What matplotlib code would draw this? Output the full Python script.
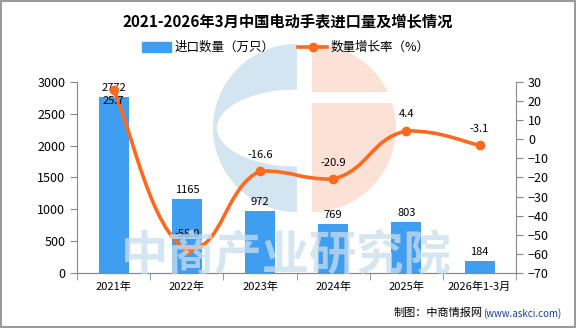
import numpy as np
import matplotlib.pyplot as plt
from matplotlib.path import Path
from matplotlib.patches import PathPatch, Wedge, Ellipse, Rectangle

plt.rcParams['font.family'] = ['Noto Sans CJK SC', 'DejaVu Sans']

years = ['2021年', '2022年', '2023年', '2024年', '2025年', '2026年1-3月']
volume = [2772, 1165, 972, 769, 803, 184]        # 进口数量（万只）
growth = [25.7, -58.0, -16.6, -20.9, 4.4, -3.1]  # 数量增长率（%）

bar_c = '#409EF0'
line_c = '#FF6A1F'
axis_c = '#888888'

fig = plt.figure(figsize=(5.76, 3.28), dpi=100)
fig.patch.set_edgecolor('#999999')
fig.patch.set_linewidth(1.5)

# background logo, in pixel coords
bg = fig.add_axes([0, 0, 1, 1], zorder=-5)
bg.set_xlim(0, 576)
bg.set_ylim(328, 0)
bg.axis('off')
bg.add_patch(Wedge((297, 128), 84, 90, 270, color='#d3e5f0', lw=0))
bg.add_patch(Ellipse((297, 128), 160, 77, color='white', lw=0))
bg.add_patch(Wedge((312, 128), 84, -90, 90, color='#fbe1d6', lw=0))
bg.add_patch(Rectangle((300, 92), 100, 11, color='white', lw=0))

ax = fig.add_axes([0.134, 0.168, 0.762, 0.582])
ax2 = ax.twinx()
ax.patch.set_visible(False)
ax2.patch.set_visible(False)

x = np.arange(len(years))

ax.bar(x, volume, width=0.41, color=bar_c, zorder=2)
for xi, v in zip(x, volume):
    ax.text(xi, v + 60, str(v), ha='center', va='bottom', fontsize=8, zorder=5)

# smooth line via cubic bezier segments (control points clamped per segment)
pts = np.column_stack([x, growth]).astype(float)
k = 0.25
verts = [tuple(pts[0])]
codes = [Path.MOVETO]
for i in range(len(pts) - 1):
    p0 = pts[i - 1] if i > 0 else pts[i]
    p1 = pts[i]
    p2 = pts[i + 1]
    p3 = pts[i + 2] if i + 2 < len(pts) else pts[i + 1]
    c1 = p1 + (p2 - p0) * k
    c2 = p2 - (p3 - p1) * k
    lo, hi = min(p1[1], p2[1]), max(p1[1], p2[1])
    c1[1] = np.clip(c1[1], lo, hi)
    c2[1] = np.clip(c2[1], lo, hi)
    verts += [tuple(c1), tuple(c2), tuple(p2)]
    codes += [Path.CURVE4] * 3
ax2.add_patch(PathPatch(Path(verts, codes), facecolor='none', edgecolor=line_c,
                        lw=2.6, zorder=3))
ax2.plot(x, growth, 'o', color=line_c, ms=6, zorder=4)
for xi, g in zip(x, growth):
    if g > 20:
        ax2.text(xi, g - 3, f'{g:.1f}', ha='center', va='top', fontsize=8, zorder=5)
    else:
        ax2.text(xi, g + 6, f'{g:.1f}', ha='center', va='bottom', fontsize=8, zorder=5)

ax.set_xlim(-0.5, len(years) - 0.5)
ax.set_ylim(0, 3000)
ax.set_yticks(range(0, 3001, 500))
ax2.set_ylim(-70, 30)
ax2.set_yticks(range(-70, 31, 10))
ax.set_xticks(x)
ax.set_xticklabels(years, fontsize=8)
ax.set_xticks(np.arange(-0.5, len(years), 1), minor=True)
ax.tick_params(axis='x', which='major', length=0, pad=6)
ax.tick_params(axis='x', which='minor', length=5, color=axis_c)
ax.tick_params(axis='y', labelsize=9, color=axis_c, length=5)
ax2.tick_params(axis='y', labelsize=9, color=axis_c, length=5)

for a in (ax, ax2):
    a.spines['top'].set_visible(False)
    for s in ['left', 'right', 'bottom']:
        a.spines[s].set_color(axis_c)
ax.spines['right'].set_visible(False)
ax2.spines['left'].set_visible(False)

# watermark text over the plot
fig.text(0.497, 0.222, '中商产业研究院', fontsize=34, color='#c9deed', alpha=0.75,
         ha='center', va='center', fontweight='bold', zorder=10)

fig.text(0.5, 0.935, '2021-2026年3月中国电动手表进口量及增长情况', ha='center',
         va='center', fontsize=11, fontweight='bold')
# legend
fig.patches.append(Rectangle((0.247, 0.84), 0.05, 0.032, color=bar_c,
                             transform=fig.transFigure))
fig.text(0.303, 0.855, '进口数量（万只）', fontsize=9, va='center')
fig.lines.append(plt.Line2D([0.518, 0.568], [0.856, 0.856], color=line_c, lw=2.6,
                            transform=fig.transFigure))
fig.lines.append(plt.Line2D([0.543], [0.856], color=line_c, marker='o', ms=6,
                            transform=fig.transFigure))
fig.text(0.574, 0.855, '数量增长率（%）', fontsize=9, va='center')

fig.text(0.838, 0.045, '制图：中商情报网', fontsize=8, va='center', ha='right')
fig.text(0.839, 0.045, '(www.askci.com)', fontsize=7, va='center', ha='left',
         color='#1a3d9a')

fig.savefig('out.png', dpi=100)
